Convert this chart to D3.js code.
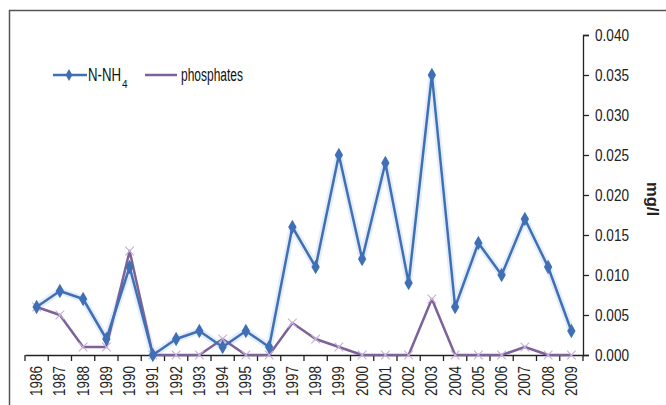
<!DOCTYPE html>
<html>
<head>
<meta charset="utf-8">
<script src="https://cdn.jsdelivr.net/npm/d3@7"></script>
<style>
  body { margin: 0; background: #fff; }
  svg { display: block; font-family: "Liberation Sans", Arial, sans-serif; }
</style>
</head>
<body>
<svg width="666" height="405"></svg>
<script>
let years = ["1986","1987","1988","1989","1990","1991","1992","1993","1994","1995","1996","1997",
  "1998","1999","2000","2001","2002","2003","2004","2005","2006","2007","2008","2009"];
let nnh4 = [0.006,0.008,0.007,0.002,0.011,0.000,0.002,0.003,0.001,0.003,0.001,0.016,
  0.011,0.025,0.012,0.024,0.009,0.035,0.006,0.014,0.010,0.017,0.011,0.003];
let phosphates = [0.006,0.005,0.001,0.001,0.013,0.000,0.000,0.000,0.002,0.000,0.000,0.004,
  0.002,0.001,0.000,0.000,0.000,0.007,0.000,0.000,0.000,0.001,0.000,0.000];
let yTicks = [0,0.005,0.010,0.015,0.020,0.025,0.030,0.035,0.040];

let blue = "#3f70b6";
let purple = "#7d6199";

let svg = d3.select("svg");

// outer frame (runs off the picture on right and bottom)
svg.append("rect")
  .attr("x", 9.5).attr("y", 10.5)
  .attr("width", 700).attr("height", 420)
  .attr("fill", "none").attr("stroke", "#555").attr("stroke-width", 1.5);

let xScale = d3.scaleBand().domain(years).range([25, 583]);
let yScale = d3.scaleLinear().domain([0, 0.04]).range([355, 35]);

// y axis on the right
let yAxis = d3.axisRight(yScale).tickValues(yTicks).tickFormat(d3.format(".3f"))
  .tickSize(6).tickPadding(6).tickSizeOuter(6);
let gy = svg.append("g").attr("transform", "translate(583,0)").call(yAxis);
gy.selectAll("text").style("font-size", "17px").attr("fill", "#222")
  .attr("textLength", 34).attr("lengthAdjust", "spacingAndGlyphs");
gy.selectAll("line, path").attr("stroke", "#222").attr("stroke-width", 1.3);

svg.append("text")
  .attr("transform", "translate(647,199) rotate(90)")
  .attr("text-anchor", "middle")
  .style("font-size", "17px").style("font-weight", "bold")
  .attr("fill", "#222")
  .attr("textLength", 34).attr("lengthAdjust", "spacingAndGlyphs")
  .text("mg/l");

// x axis: labels at band centres, ticks at band edges
let xAxis = d3.axisBottom(xScale).tickSize(0).tickSizeOuter(0);
let gx = svg.append("g").attr("transform", "translate(0,355)").call(xAxis);
gx.select("path").attr("stroke", "#222").attr("stroke-width", 1.3);
gx.selectAll("text")
  .style("font-size", "16px").attr("fill", "#222")
  .attr("text-anchor", "end")
  .attr("dy", "0.35em")
  .attr("transform", "translate(0,11) rotate(-90)")
  .attr("x", 0).attr("y", 0)
  .attr("textLength", 30).attr("lengthAdjust", "spacingAndGlyphs");

gx.selectAll(".edge")
  .data(years.map((d) => xScale(d)).concat([583]))
  .enter()
  .append("line")
  .attr("class", "edge")
  .attr("x1", (d) => d).attr("x2", (d) => d)
  .attr("y1", 0).attr("y2", 6)
  .attr("stroke", "#222").attr("stroke-width", 1.3);

let cx = (d, i) => xScale(years[i]) + xScale.bandwidth() / 2;
let line = d3.line().x(cx).y((d) => yScale(d));

// soft halo like the scanned original
svg.append("path").datum(nnh4).attr("d", line)
  .attr("fill", "none").attr("stroke", "#a9c8ee").attr("stroke-width", 7)
  .attr("stroke-opacity", 0.3).attr("stroke-linejoin", "round");

// phosphates
svg.append("path").datum(phosphates).attr("d", line)
  .attr("fill", "none").attr("stroke", purple).attr("stroke-width", 2.5)
  .attr("stroke-linejoin", "round");

let cross = d3.symbol().type(d3.symbolX).size(50);
svg.selectAll(".pmark").data(phosphates).enter().append("path")
  .attr("class", "pmark")
  .attr("d", cross)
  .attr("transform", (d, i) => "translate(" + cx(d, i) + "," + yScale(d) + ")")
  .attr("fill", "none").attr("stroke", "#c7b2da").attr("stroke-width", 1.2);

// N-NH4
svg.append("path").datum(nnh4).attr("d", line)
  .attr("fill", "none").attr("stroke", blue).attr("stroke-width", 2.5)
  .attr("stroke-linejoin", "round");

let diamond = d3.symbol().type(d3.symbolDiamond).size(60);
svg.selectAll(".nmark").data(nnh4).enter().append("path")
  .attr("class", "nmark")
  .attr("d", diamond)
  .attr("transform", (d, i) => "translate(" + cx(d, i) + "," + yScale(d) + ")")
  .attr("fill", blue);

// legend
let legend = svg.append("g").attr("transform", "translate(0,75)");
legend.append("line").attr("x1", 53).attr("x2", 87).attr("y1", 0).attr("y2", 0)
  .attr("stroke", blue).attr("stroke-width", 2.5);
legend.append("path").attr("d", d3.symbol().type(d3.symbolDiamond).size(40))
  .attr("transform", "translate(69,0)").attr("fill", blue);
let t1 = legend.append("text").attr("x", 88).attr("y", 6)
  .style("font-size", "18px").attr("fill", "#111");
t1.append("tspan")
  .attr("textLength", 33).attr("lengthAdjust", "spacingAndGlyphs")
  .text("N-NH");
t1.append("tspan").attr("dx", 1).attr("dy", 7).style("font-size", "10px").text("4");

legend.append("line").attr("x1", 145).attr("x2", 177).attr("y1", 0).attr("y2", 0)
  .attr("stroke", purple).attr("stroke-width", 2.5);
legend.append("text").attr("x", 181).attr("y", 6)
  .style("font-size", "18px").attr("fill", "#111")
  .attr("textLength", 62).attr("lengthAdjust", "spacingAndGlyphs")
  .text("phosphates");
</script>
</body>
</html>
